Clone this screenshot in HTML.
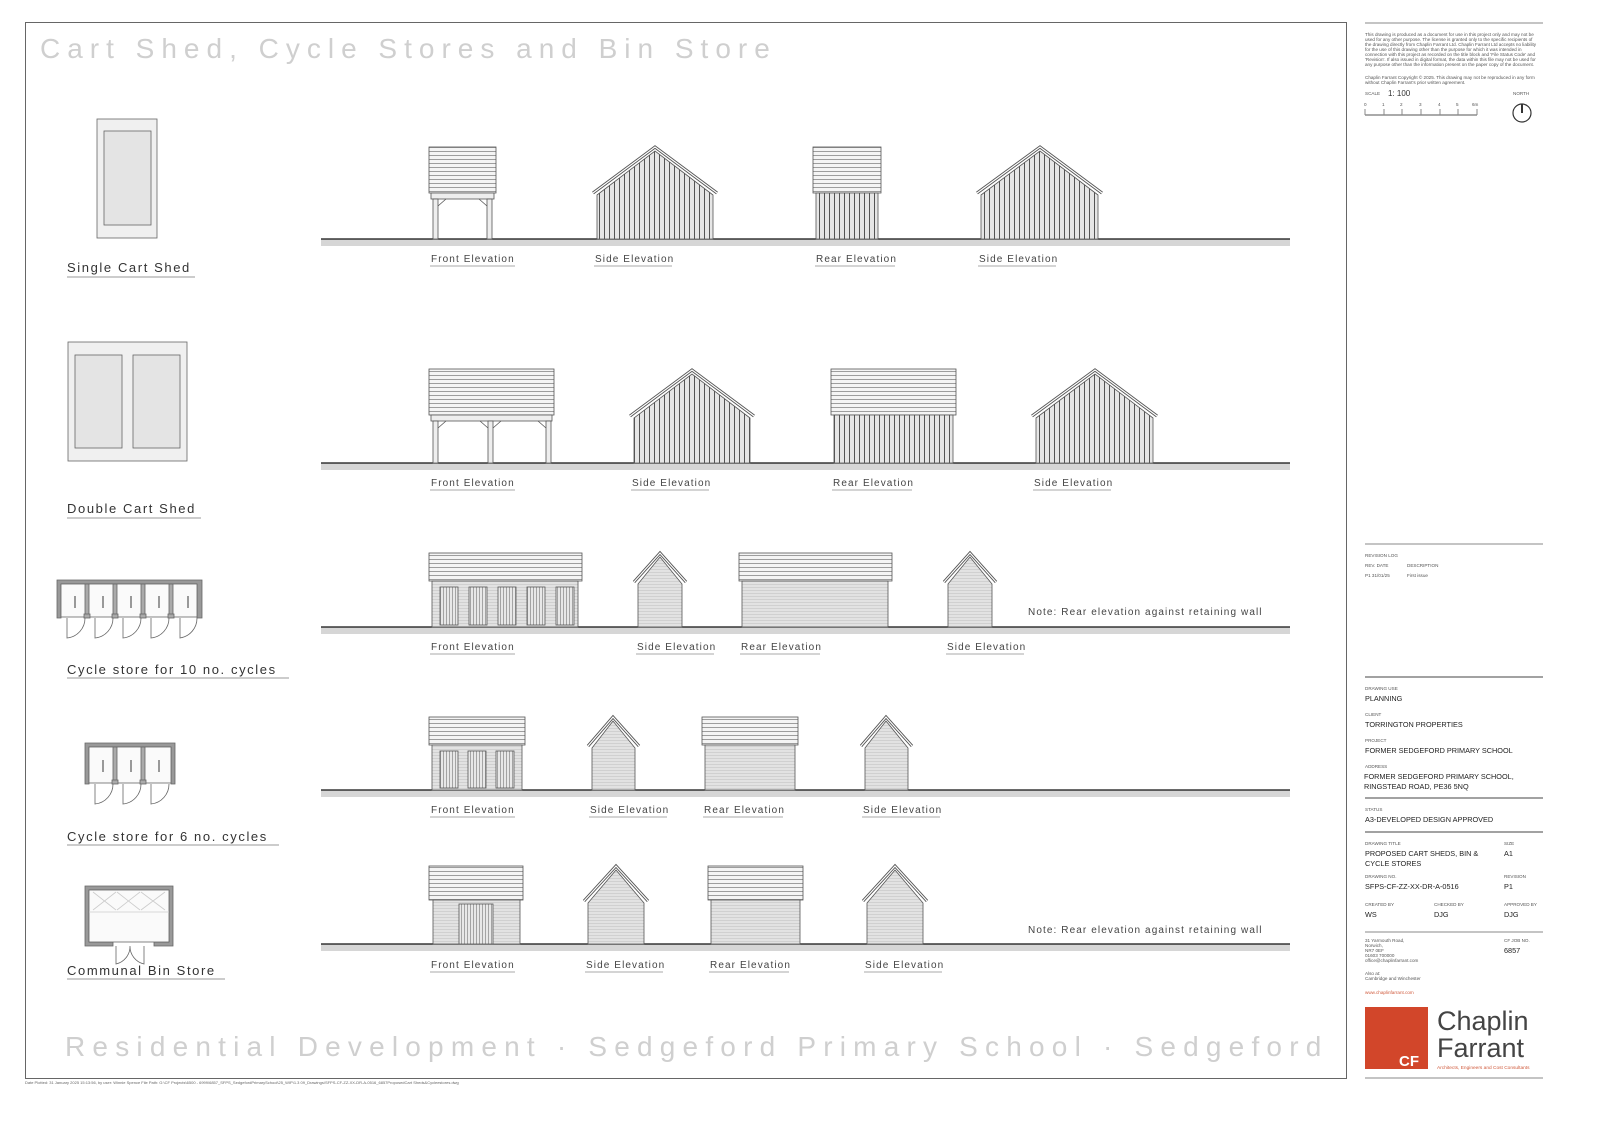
<!DOCTYPE html>
<html><head><meta charset="utf-8"><style>
html,body{margin:0;padding:0;background:#fff}
svg{display:block}
.t{font-family:"Liberation Sans",sans-serif}
</style></head><body>
<svg width="1600" height="1130" viewBox="0 0 1600 1130" xmlns="http://www.w3.org/2000/svg" class="t">
<defs>
<pattern id="roof" width="10" height="4" patternUnits="userSpaceOnUse"><rect width="10" height="4" fill="#f4f4f4"/><line x1="0" y1="3.5" x2="10" y2="3.5" stroke="#888" stroke-width="0.8"/></pattern>
<pattern id="board" width="5" height="10" patternUnits="userSpaceOnUse"><rect width="5" height="10" fill="#e6e6e6"/><line x1="4.5" y1="0" x2="4.5" y2="10" stroke="#444" stroke-width="0.9"/></pattern>
<pattern id="clad" width="10" height="3" patternUnits="userSpaceOnUse"><rect width="10" height="3" fill="#e2e2e2"/><line x1="0" y1="2.5" x2="10" y2="2.5" stroke="#c4c4c4" stroke-width="0.6"/></pattern>
<pattern id="door" width="3" height="10" patternUnits="userSpaceOnUse"><rect width="3" height="10" fill="#e8e8e8"/><line x1="2.5" y1="0" x2="2.5" y2="10" stroke="#777" stroke-width="0.6"/></pattern>
</defs>
<rect x="0" y="0" width="1600" height="1130" fill="#fff"/>
<rect x="25.5" y="22.5" width="1321" height="1056" fill="none" stroke="#666" stroke-width="1"/>
<text x="40" y="58" font-size="28" letter-spacing="7" fill="#cfcfcf">Cart Shed, Cycle Stores and Bin Store</text>
<text x="65" y="1056" font-size="28" letter-spacing="7.2" fill="#cfcfcf">Residential Development · Sedgeford Primary School · Sedgeford</text>
<text x="25" y="1084" font-size="4" fill="#666">Date Plotted: 31 January 2025 15:13:56, by user: Winnie Spence File Path: G:\CF Projects\6500 - 6999\6857_SFPS_SedgefordPrimarySchool\25_WIP\1.3 09_Drawings\SFPS-CF-ZZ-XX-DR-A-0516_6857ProposedCart Sheds&amp;Cycleestores.dwg</text>

<g fill="#d6d6d6">
<rect x="321" y="239" width="969" height="7"/>
<rect x="321" y="463" width="969" height="7"/>
<rect x="321" y="627" width="969" height="7"/>
<rect x="321" y="790" width="969" height="7"/>
<rect x="321" y="944" width="969" height="7"/>
</g>
<g stroke="#111" stroke-width="1.3">
<line x1="321" y1="239" x2="1290" y2="239"/>
<line x1="321" y1="463" x2="1290" y2="463"/>
<line x1="321" y1="627" x2="1290" y2="627"/>
<line x1="321" y1="790" x2="1290" y2="790"/>
<line x1="321" y1="944" x2="1290" y2="944"/>
</g>

<g stroke="#555" stroke-width="0.8">
<rect x="429" y="147" width="67" height="46" fill="url(#roof)"/>
<rect x="431" y="193" width="63" height="6" fill="#eee"/>
<rect x="433" y="199" width="5" height="40" fill="#eee"/>
<rect x="487" y="199" width="5" height="40" fill="#eee"/>
<line x1="438" y1="206" x2="446" y2="199"/><line x1="487" y1="206" x2="479" y2="199"/>
<polygon points="597,239 597,195 655,151 713,195 713,239" fill="url(#board)"/>
<polyline points="593,193 655,147 717,193" fill="none" stroke="#555" stroke-width="3"/>
<polyline points="593,193 655,147 717,193" fill="none" stroke="#fff" stroke-width="1.2"/>
<rect x="813" y="147" width="68" height="46" fill="url(#roof)"/>
<rect x="816" y="193" width="62" height="46" fill="url(#board)"/>
<polygon points="981,239 981,195 1040,151 1098,195 1098,239" fill="url(#board)"/>
<polyline points="977,193 1040,147 1102,193" fill="none" stroke="#555" stroke-width="3"/>
<polyline points="977,193 1040,147 1102,193" fill="none" stroke="#fff" stroke-width="1.2"/>

<rect x="429" y="369" width="125" height="46" fill="url(#roof)"/>
<rect x="431" y="415" width="121" height="6" fill="#eee"/>
<rect x="433" y="421" width="5" height="42" fill="#eee"/>
<rect x="488" y="421" width="5" height="42" fill="#eee"/>
<rect x="546" y="421" width="5" height="42" fill="#eee"/>
<line x1="438" y1="428" x2="446" y2="421"/><line x1="488" y1="428" x2="480" y2="421"/><line x1="493" y1="428" x2="501" y2="421"/><line x1="546" y1="428" x2="538" y2="421"/>
<polygon points="634,463 634,418 692,374 750,418 750,463" fill="url(#board)"/>
<polyline points="630,416 692,370 754,416" fill="none" stroke="#555" stroke-width="3"/>
<polyline points="630,416 692,370 754,416" fill="none" stroke="#fff" stroke-width="1.2"/>
<rect x="831" y="369" width="125" height="46" fill="url(#roof)"/>
<rect x="834" y="415" width="119" height="48" fill="url(#board)"/>
<polygon points="1036,463 1036,418 1095,374 1153,418 1153,463" fill="url(#board)"/>
<polyline points="1032,416 1095,370 1157,416" fill="none" stroke="#555" stroke-width="3"/>
<polyline points="1032,416 1095,370 1157,416" fill="none" stroke="#fff" stroke-width="1.2"/>

<rect x="429" y="553" width="153" height="28" fill="url(#roof)"/>
<rect x="432" y="581" width="146" height="46" fill="url(#clad)"/>
<rect x="440" y="587" width="18" height="38" fill="url(#door)"/>
<rect x="469" y="587" width="18" height="38" fill="url(#door)"/>
<rect x="498" y="587" width="18" height="38" fill="url(#door)"/>
<rect x="527" y="587" width="18" height="38" fill="url(#door)"/>
<rect x="556" y="587" width="18" height="38" fill="url(#door)"/>
<polygon points="638,627 638,584 660,557 682,584 682,627" fill="url(#clad)"/>
<polyline points="634,582 660,553 686,582" fill="none" stroke="#555" stroke-width="3"/>
<polyline points="634,582 660,553 686,582" fill="none" stroke="#fff" stroke-width="1.2"/>
<rect x="739" y="553" width="153" height="28" fill="url(#roof)"/>
<rect x="742" y="581" width="146" height="46" fill="url(#clad)"/>
<polygon points="948,627 948,584 970,557 992,584 992,627" fill="url(#clad)"/>
<polyline points="944,582 970,553 996,582" fill="none" stroke="#555" stroke-width="3"/>
<polyline points="944,582 970,553 996,582" fill="none" stroke="#fff" stroke-width="1.2"/>

<rect x="429" y="717" width="96" height="28" fill="url(#roof)"/>
<rect x="432" y="745" width="90" height="45" fill="url(#clad)"/>
<rect x="440" y="751" width="18" height="37" fill="url(#door)"/>
<rect x="468" y="751" width="18" height="37" fill="url(#door)"/>
<rect x="496" y="751" width="18" height="37" fill="url(#door)"/>
<polygon points="592,790 592,748 613,721 635,748 635,790" fill="url(#clad)"/>
<polyline points="588,746 613,717 639,746" fill="none" stroke="#555" stroke-width="3"/>
<polyline points="588,746 613,717 639,746" fill="none" stroke="#fff" stroke-width="1.2"/>
<rect x="702" y="717" width="96" height="28" fill="url(#roof)"/>
<rect x="705" y="745" width="90" height="45" fill="url(#clad)"/>
<polygon points="865,790 865,748 886,721 908,748 908,790" fill="url(#clad)"/>
<polyline points="861,746 886,717 912,746" fill="none" stroke="#555" stroke-width="3"/>
<polyline points="861,746 886,717 912,746" fill="none" stroke="#fff" stroke-width="1.2"/>

<rect x="429" y="866" width="94" height="34" fill="url(#roof)"/>
<rect x="433" y="900" width="87" height="44" fill="url(#clad)"/>
<rect x="459" y="904" width="34" height="40" fill="url(#door)"/>
<polygon points="588,944 588,903 616,870 644,903 644,944" fill="url(#clad)"/>
<polyline points="584,901 616,866 648,901" fill="none" stroke="#555" stroke-width="3"/>
<polyline points="584,901 616,866 648,901" fill="none" stroke="#fff" stroke-width="1.2"/>
<rect x="708" y="866" width="95" height="34" fill="url(#roof)"/>
<rect x="711" y="900" width="89" height="44" fill="url(#clad)"/>
<polygon points="867,944 867,903 895,870 923,903 923,944" fill="url(#clad)"/>
<polyline points="863,901 895,866 927,901" fill="none" stroke="#555" stroke-width="3"/>
<polyline points="863,901 895,866 927,901" fill="none" stroke="#fff" stroke-width="1.2"/>
</g>

<g font-size="10" letter-spacing="1.1" fill="#444">
<text x="431" y="262">Front Elevation</text><text x="595" y="262">Side Elevation</text><text x="816" y="262">Rear Elevation</text><text x="979" y="262">Side Elevation</text>
<text x="431" y="486">Front Elevation</text><text x="632" y="486">Side Elevation</text><text x="833" y="486">Rear Elevation</text><text x="1034" y="486">Side Elevation</text>
<text x="431" y="650">Front Elevation</text><text x="637" y="650">Side Elevation</text><text x="741" y="650">Rear Elevation</text><text x="947" y="650">Side Elevation</text>
<text x="431" y="813">Front Elevation</text><text x="590" y="813">Side Elevation</text><text x="704" y="813">Rear Elevation</text><text x="863" y="813">Side Elevation</text>
<text x="431" y="968">Front Elevation</text><text x="586" y="968">Side Elevation</text><text x="710" y="968">Rear Elevation</text><text x="865" y="968">Side Elevation</text>
<text x="1028" y="615">Note: Rear elevation against retaining wall</text>
<text x="1028" y="933">Note: Rear elevation against retaining wall</text>
</g>
<g stroke="#aaa" stroke-width="1">
<line x1="430" y1="266" x2="515" y2="266"/><line x1="594" y1="266" x2="672" y2="266"/><line x1="815" y1="266" x2="895" y2="266"/><line x1="978" y1="266" x2="1056" y2="266"/>
<line x1="430" y1="490" x2="515" y2="490"/><line x1="631" y1="490" x2="709" y2="490"/><line x1="832" y1="490" x2="912" y2="490"/><line x1="1033" y1="490" x2="1111" y2="490"/>
<line x1="430" y1="654" x2="515" y2="654"/><line x1="636" y1="654" x2="714" y2="654"/><line x1="740" y1="654" x2="820" y2="654"/><line x1="946" y1="654" x2="1024" y2="654"/>
<line x1="430" y1="817" x2="515" y2="817"/><line x1="589" y1="817" x2="667" y2="817"/><line x1="703" y1="817" x2="783" y2="817"/><line x1="862" y1="817" x2="940" y2="817"/>
<line x1="430" y1="972" x2="515" y2="972"/><line x1="585" y1="972" x2="663" y2="972"/><line x1="709" y1="972" x2="789" y2="972"/><line x1="864" y1="972" x2="942" y2="972"/>
</g>

<g stroke="#666" stroke-width="0.8">
<rect x="97" y="119" width="60" height="119" fill="#f0f0f0"/>
<rect x="104" y="131" width="47" height="94" fill="#e4e4e4"/>
<rect x="68" y="342" width="119" height="119" fill="#f0f0f0"/>
<rect x="75" y="355" width="47" height="93" fill="#e4e4e4"/>
<rect x="133" y="355" width="47" height="93" fill="#e4e4e4"/>
</g>
<g stroke="#666" stroke-width="0.8" fill="none">
<path d="M57,618 V580 H202 V618 H197 V584 H61 V618 Z" fill="#999"/>
<rect x="61" y="584" width="136" height="33" fill="#fafafa"/>
<g fill="#aaa"><rect x="85" y="584" width="4" height="33"/><rect x="113" y="584" width="4" height="33"/><rect x="141" y="584" width="4" height="33"/><rect x="169" y="584" width="4" height="33"/>
<rect x="84" y="614" width="6" height="4"/><rect x="112" y="614" width="6" height="4"/><rect x="140" y="614" width="6" height="4"/><rect x="168" y="614" width="6" height="4"/></g>
<path d="M67,618 V638 A20,20 0 0 0 85,618"/><path d="M95,618 V638 A20,20 0 0 0 113,618"/><path d="M123,618 V638 A20,20 0 0 0 141,618"/><path d="M151,618 V638 A20,20 0 0 0 169,618"/><path d="M180,618 V638 A20,20 0 0 0 197,618"/>
<g stroke="#999" stroke-width="2"><line x1="75" y1="596" x2="75" y2="608"/><line x1="103" y1="596" x2="103" y2="608"/><line x1="131" y1="596" x2="131" y2="608"/><line x1="159" y1="596" x2="159" y2="608"/><line x1="188" y1="596" x2="188" y2="608"/></g>
<path d="M85,784 V743 H175 V784 H171 V747 H89 V784 Z" fill="#999"/>
<rect x="89" y="747" width="82" height="36" fill="#fafafa"/>
<g fill="#aaa"><rect x="113" y="747" width="4" height="36"/><rect x="141" y="747" width="4" height="36"/><rect x="112" y="780" width="6" height="4"/><rect x="140" y="780" width="6" height="4"/></g>
<path d="M95,784 V804 A20,20 0 0 0 113,784"/><path d="M123,784 V804 A20,20 0 0 0 141,784"/><path d="M151,784 V804 A20,20 0 0 0 169,784"/>
<g stroke="#999" stroke-width="2"><line x1="103" y1="760" x2="103" y2="772"/><line x1="131" y1="760" x2="131" y2="772"/><line x1="159" y1="760" x2="159" y2="772"/></g>
<path d="M85,946 V886 H173 V946 H154 V942 H169 V890 H89 V942 H113 V946 Z" fill="#999"/>
<rect x="89" y="890" width="80" height="52" fill="#fafafa"/>
<g stroke="#ccc"><line x1="89" y1="912" x2="169" y2="912"/><path d="M93,892 L116,910 M116,892 L93,910 M117,892 L140,910 M140,892 L117,910 M141,892 L165,910 M165,892 L141,910"/></g>
<path d="M116,946 V964 A18,18 0 0 0 130,946 M144,946 V964 A18,18 0 0 1 130,946"/>
</g>
<g font-size="13" letter-spacing="1.6" fill="#333">
<text x="67" y="272">Single Cart Shed</text>
<text x="67" y="513">Double Cart Shed</text>
<text x="67" y="674">Cycle store for 10 no. cycles</text>
<text x="67" y="841">Cycle store for 6 no. cycles</text>
<text x="67" y="975">Communal Bin Store</text>
</g>
<g stroke="#999"><line x1="67" y1="277" x2="195" y2="277"/><line x1="67" y1="518" x2="201" y2="518"/><line x1="67" y1="678" x2="289" y2="678"/><line x1="67" y1="845" x2="279" y2="845"/><line x1="67" y1="979" x2="225" y2="979"/></g>

<g stroke="#888" stroke-width="1">
<line x1="1365" y1="23" x2="1543" y2="23"/>
<line x1="1365" y1="544" x2="1543" y2="544"/>
<line x1="1365" y1="677" x2="1543" y2="677" stroke="#444"/>
<line x1="1365" y1="798" x2="1543" y2="798" stroke="#444"/>
<line x1="1365" y1="832" x2="1543" y2="832" stroke="#444"/>
<line x1="1365" y1="932" x2="1543" y2="932"/>
<line x1="1365" y1="1078" x2="1543" y2="1078"/>
<line x1="1365" y1="115" x2="1477" y2="115" stroke="#555"/>
<line x1="1365" y1="109" x2="1365" y2="115"/><line x1="1384" y1="109" x2="1384" y2="115"/><line x1="1402" y1="109" x2="1402" y2="115"/><line x1="1421" y1="109" x2="1421" y2="115"/><line x1="1440" y1="109" x2="1440" y2="115"/><line x1="1458" y1="109" x2="1458" y2="115"/><line x1="1477" y1="109" x2="1477" y2="115"/>
</g>
<circle cx="1522" cy="113" r="9" fill="none" stroke="#333" stroke-width="1.2"/>
<line x1="1522" y1="104" x2="1522" y2="113" stroke="#333" stroke-width="2"/>
<g font-size="4.6" fill="#555">
<text x="1365" y="36">This drawing is produced as a document for use in this project only and may not be</text>
<text x="1365" y="41">used for any other purpose. The license is granted only to the specific recipients of</text>
<text x="1365" y="46">the drawing directly from Chaplin Farrant Ltd. Chaplin Farrant Ltd accepts no liability</text>
<text x="1365" y="51">for the use of this drawing other than the purpose for which it was intended in</text>
<text x="1365" y="56">connection with this project as recorded on the title block and 'File Status Code' and</text>
<text x="1365" y="61">'Revision'. If also issued in digital format, the data within this file may not be used for</text>
<text x="1365" y="66">any purpose other than the information present on the paper copy of the document.</text>
<text x="1365" y="79">Chaplin Farrant Copyright © 2025. This drawing may not be reproduced in any form</text>
<text x="1365" y="84">without Chaplin Farrant's prior written agreement.</text>
<text x="1365" y="95">SCALE</text><text x="1513" y="95">NORTH</text>
<text x="1364" y="106">0</text><text x="1382" y="106">1</text><text x="1400" y="106">2</text><text x="1419" y="106">3</text><text x="1438" y="106">4</text><text x="1456" y="106">5</text><text x="1472" y="106">6m</text>
<text x="1365" y="557">REVISION LOG</text>
<text x="1365" y="567">REV.  DATE</text><text x="1407" y="567">DESCRIPTION</text>
<text x="1365" y="577">P1    31/01/25</text><text x="1407" y="577">First issue</text>
<text x="1365" y="690">DRAWING USE</text>
<text x="1365" y="716">CLIENT</text>
<text x="1365" y="742">PROJECT</text>
<text x="1365" y="768">ADDRESS</text>
<text x="1365" y="811">STATUS</text>
<text x="1365" y="845">DRAWING TITLE</text><text x="1504" y="845">SIZE</text>
<text x="1365" y="878">DRAWING NO.</text><text x="1504" y="878">REVISION</text>
<text x="1365" y="906">CREATED BY</text><text x="1434" y="906">CHECKED BY</text><text x="1504" y="906">APPROVED BY</text>
<text x="1504" y="942">CF JOB NO.</text>
<text x="1365" y="942">31 Yarmouth Road,</text><text x="1365" y="947">Norwich,</text><text x="1365" y="952">NR7 0EF</text><text x="1365" y="957">01603 700000</text><text x="1365" y="962">office@chaplinfarrant.com</text>
<text x="1365" y="975">Also at:</text><text x="1365" y="980">Cambridge and Winchester</text>
<text x="1365" y="994" fill="#d05a3c">www.chaplinfarrant.com</text>
</g>
<text x="1388" y="96" font-size="8" fill="#333">1: 100</text>
<g font-size="7.3" fill="#222">
<text x="1365" y="701">PLANNING</text>
<text x="1365" y="727">TORRINGTON PROPERTIES</text>
<text x="1365" y="753">FORMER SEDGEFORD PRIMARY SCHOOL</text>
<text x="1364" y="779">FORMER SEDGEFORD PRIMARY SCHOOL,</text>
<text x="1364" y="789">RINGSTEAD ROAD, PE36 5NQ</text>
<text x="1365" y="822">A3-DEVELOPED DESIGN APPROVED</text>
<text x="1365" y="856">PROPOSED CART SHEDS, BIN &amp;</text>
<text x="1365" y="866">CYCLE STORES</text><text x="1504" y="856">A1</text>
<text x="1365" y="889">SFPS-CF-ZZ-XX-DR-A-0516</text><text x="1504" y="889">P1</text>
<text x="1365" y="917">WS</text><text x="1434" y="917">DJG</text><text x="1504" y="917">DJG</text>
<text x="1504" y="953">6857</text>
</g>
<rect x="1365" y="1007" width="63" height="62" fill="#d2462a"/>
<text x="1399" y="1066" font-size="15" font-weight="bold" fill="#fff">CF</text>
<text x="1437" y="1030" font-size="27" fill="#444">Chaplin</text>
<text x="1437" y="1057" font-size="27" fill="#444">Farrant</text>
<text x="1437" y="1069" font-size="4.8" fill="#d05a3c">Architects, Engineers and Cost Consultants</text>
</svg>
</body></html>
